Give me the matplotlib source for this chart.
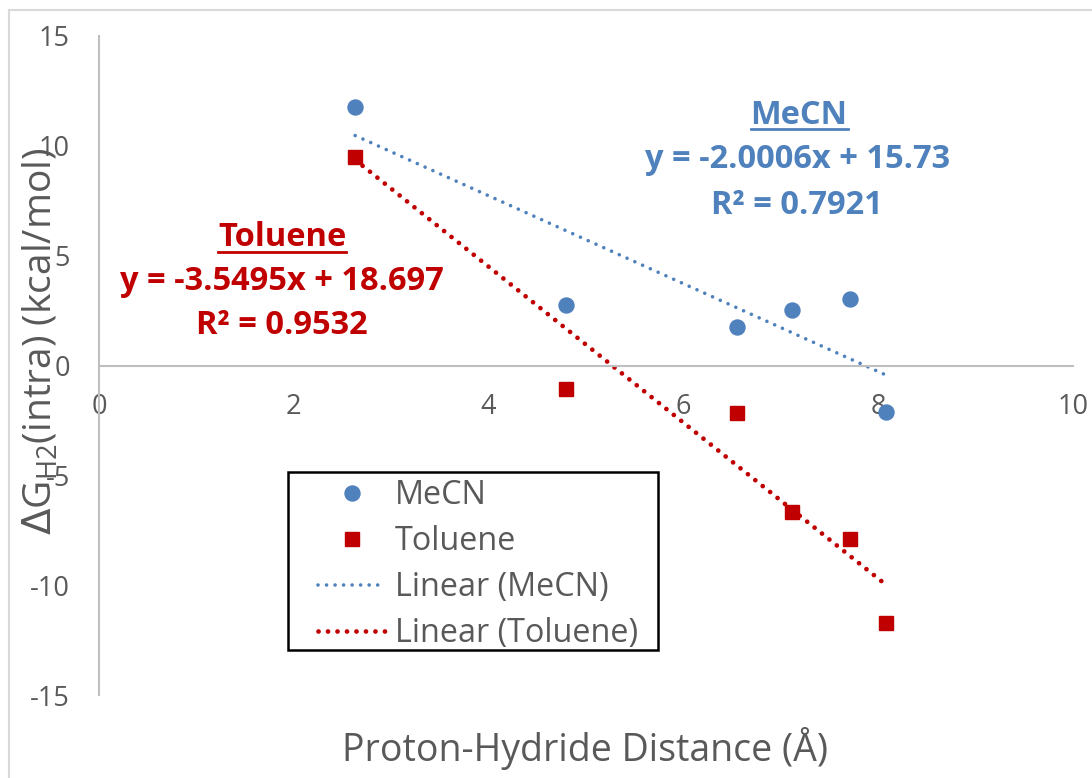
import numpy as np
import matplotlib
matplotlib.use("Agg")
from matplotlib import pyplot as plt
from matplotlib.lines import Line2D
from matplotlib.patches import Rectangle

plt.rcParams['font.family'] = ['Open Sans', 'DejaVu Sans']
plt.rcParams['axes.unicode_minus'] = False

# data
dist = [2.63, 4.79, 6.55, 7.12, 7.71, 8.08]
mecn = [11.77, 2.77, 1.77, 2.51, 3.05, -2.12]
toluene = [9.50, -1.09, -2.15, -6.68, -7.88, -11.74]
# trendline coefficients as printed on the chart (slope, intercept)
fit_mecn = [-2.0006, 15.73]
fit_tol = [-3.5495, 18.697]
r2_mecn = 0.7921
r2_tol = 0.9532
xticks = [0, 2, 4, 6, 8, 10]
yticks = [-15, -10, -5, 0, 5, 10, 15]

blue = '#4F81BD'
red = '#C00000'
grey = '#595959'
axgrey = '#BFBFBF'
W, H = 1092, 778

fig = plt.figure(figsize=(10.92, 7.78), dpi=100)
ax = fig.add_axes([99/W, 1-695/H, (1073-99)/W, (695-36)/H])

ax.plot(dist, mecn, 'o', color=blue, ms=10.8, mec=blue, zorder=3)
ax.plot(dist, toluene, 's', color=red, ms=10.5, mec=red, zorder=3)

blue_ls = (0, (0.01, 2.35))
red_ls = (0, (0.01, 2.0))
xl = np.array([min(dist), max(dist)])
ax.plot(xl, fit_mecn[0]*xl+fit_mecn[1], color=blue, lw=2.6,
        linestyle=blue_ls, dash_capstyle='round')
ax.plot(xl, fit_tol[0]*xl+fit_tol[1], color=red, lw=3.4,
        linestyle=red_ls, dash_capstyle='round')

ax.set_xlim(0, 10)
ax.set_ylim(-15, 15)
ax.set_xticks(xticks)
ax.set_yticks(yticks)
for s in ['top', 'right']:
    ax.spines[s].set_visible(False)
ax.spines['bottom'].set_position(('data', 0))
for s in ['bottom', 'left']:
    ax.spines[s].set_color(axgrey)
    ax.spines[s].set_linewidth(1.5)
ax.tick_params(length=0, labelsize=19.5, colors=grey)
ax.tick_params(axis='x', pad=20)
ax.tick_params(axis='y', pad=21)
ax.patch.set_alpha(0)

fig.text(585/W, 1-748/H, 'Proton-Hydride Distance (Å)', fontsize=27,
         color=grey, ha='center', va='center')
fig.text(41/W, 1-341/H, r'$\Delta$G$_{\mathregular{H2}}$(intra) (kcal/mol)',
         fontsize=28, color=grey, ha='center', va='center', rotation=90)

# trendline annotations
ann = dict(fontsize=23.5, fontweight='bold', ha='center', va='center')
t1 = fig.text(282/W, 1-238/H, 'Toluene', color=red, **ann)
fig.text(282/W, 1-282/H, f'y = {fit_tol[0]}x + {fit_tol[1]}', color=red, **ann)
fig.text(282/W, 1-325/H, f'R² = {r2_tol}', color=red, **ann)
t2 = fig.text(799/W, 1-115/H, 'MeCN', color=blue, **ann)
fig.text(798/W, 1-160/H, f'y = {fit_mecn[0]}x + {fit_mecn[1]}', color=blue, **ann)
fig.text(797/W, 1-205/H, f'R² = {r2_mecn}', color=blue, **ann)

fig.canvas.draw()
r = fig.canvas.get_renderer()
for t, c in [(t1, red), (t2, blue)]:
    bb = t.get_window_extent(r)
    yy = (bb.y0 + 3) / H
    fig.add_artist(Line2D([bb.x0/W, bb.x1/W], [yy, yy], color=c, lw=2))

handles = [
    Line2D([], [], marker='o', ls='none', color=blue, ms=10.8),
    Line2D([], [], marker='s', ls='none', color=red, ms=10.5),
    Line2D([], [], color=blue, lw=2.6, linestyle=blue_ls, dash_capstyle='round'),
    Line2D([], [], color=red, lw=3.4, linestyle=red_ls, dash_capstyle='round'),
]
labels = ['MeCN', 'Toluene', 'Linear (MeCN)', 'Linear (Toluene)']
ax.add_patch(Rectangle((288/W, 1-650/H), (658-288)/W, (650-472)/H,
                       transform=fig.transFigure, facecolor='white',
                       edgecolor='black', lw=1.8, zorder=4, clip_on=False))
leg = ax.legend(handles, labels, loc='upper left',
                bbox_to_anchor=(318/W, 1-479/H), bbox_transform=fig.transFigure,
                borderaxespad=0, borderpad=0, fontsize=23.3, labelcolor=grey,
                frameon=False, handlelength=2.1, handletextpad=0.28,
                labelspacing=0.40, numpoints=1)
leg.set_zorder(5)

# chart area border
fig.add_artist(Line2D([9/W, 9/W], [0, 1-10/H], color='#D9D9D9', lw=1.5))
fig.add_artist(Line2D([9/W, 1], [1-10/H, 1-10/H], color='#D9D9D9', lw=1.5))

fig.savefig('out.png', dpi=100)
